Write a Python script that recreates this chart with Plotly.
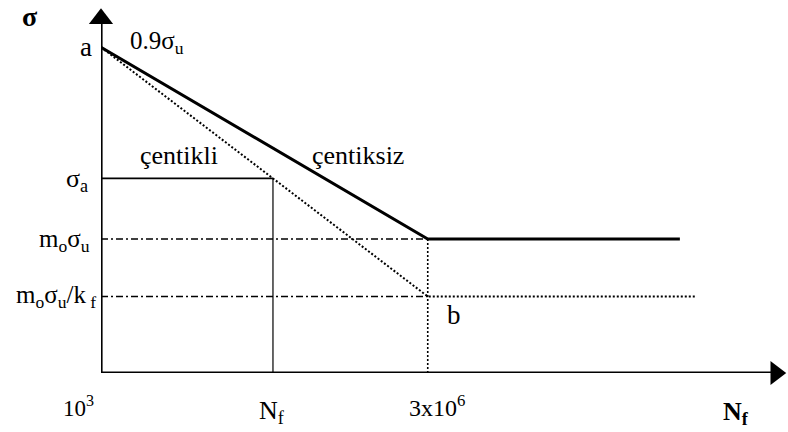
import plotly.graph_objects as go

# Schematic S-N diagram: x is log10(N), y is stress in units of sigma_u
log_n_start = 3.0          # N = 10^3
log_n_knee = 6.477         # N = 3x10^6
log_n_f = 4.83             # working life N_f
log_n_end_solid = 9.16
log_n_end_dotted = 9.34
log_n_axis_end = 10.3

sigma_a_pt = 0.9           # 0.9 sigma_u at point a
m_o = 0.37                 # m_o sigma_u (endurance limit, unnotched)
k_f = 1.75                 # fatigue notch factor
endurance_notched = m_o / k_f

# stress on the notched line at N_f
sigma_work = sigma_a_pt - (log_n_f - log_n_start) / (log_n_knee - log_n_start) * (sigma_a_pt - endurance_notched)

y_top = 1.0083
FONT = "Liberation Serif, Times New Roman, serif"
BLACK = "#000000"
DASHDOT = "7px,3px,2px,3px"
DOTS = "2px,2px"
PLOT_W = 686.0   # pixels across the plotting area
PLOT_H = 365.0

fig = go.Figure()

def seg(xs, ys, width, dash="solid"):
    fig.add_trace(go.Scatter(x=xs, y=ys, mode="lines",
                             line=dict(color=BLACK, width=width, dash=dash),
                             hoverinfo="skip", showlegend=False, cliponaxis=False))

# unnotched curve (çentiksiz): 0.9 sigma_u -> m_o sigma_u, then flat
seg([log_n_start, log_n_knee, log_n_end_solid], [sigma_a_pt, m_o, m_o], 3)
# notched curve (çentikli): dotted to point b, then flat dotted
seg([log_n_start, log_n_knee, log_n_end_dotted], [sigma_a_pt, endurance_notched, endurance_notched], 2, DOTS)
# reference levels from the stress axis
seg([log_n_start, log_n_knee], [m_o, m_o], 1.6, DASHDOT)
seg([log_n_start, log_n_knee], [endurance_notched, endurance_notched], 1.6, DASHDOT)
# vertical at 3x10^6
seg([log_n_knee, log_n_knee], [m_o, 0], 1.6, DOTS)
# working stress sigma_a and its life N_f
seg([log_n_start, log_n_f], [sigma_work, sigma_work], 1.8)
seg([log_n_f, log_n_f], [sigma_work, 0], 1.2)

# axes
seg([log_n_start, log_n_start], [0, y_top - 0.04], 3.2)
seg([log_n_start, log_n_axis_end - 0.14], [0, 0], 3.2)

# arrowheads
fig.add_trace(go.Scatter(x=[log_n_start], y=[y_top - 0.03], mode="markers",
                         marker=dict(symbol="triangle-up", size=21, color=BLACK,
                                     line=dict(width=0)),
                         hoverinfo="skip", showlegend=False, cliponaxis=False))
fig.add_trace(go.Scatter(x=[log_n_axis_end - 0.12], y=[0], mode="markers",
                         marker=dict(symbol="triangle-right", size=21, color=BLACK,
                                     line=dict(width=0)),
                         hoverinfo="skip", showlegend=False, cliponaxis=False))


def label(x, y, text, size=26, xanchor="center", bold=False, xref="x", yref="y"):
    fig.add_annotation(x=x, y=y, xref=xref, yref=yref,
                       text=f"<b>{text}</b>" if bold else text,
                       showarrow=False, xanchor=xanchor, yanchor="middle",
                       font=dict(family=FONT, size=size, color=BLACK))


def px_left(px):
    # horizontal pixel offset to paper fraction (left of the stress axis)
    return (px - 101) / PLOT_W


def py_below(py):
    # vertical pixel to paper fraction (below the N axis)
    return (373 - py) / PLOT_H


label(px_left(30), 0.985, "σ", 28, bold=True, xref="paper")
label(px_left(86), sigma_a_pt, "a", 27, xref="paper")
label(3.29, sigma_a_pt + 0.012, "0.9σ<sub>u</sub>", 25, xanchor="left")
label(3.83, 0.60, "çentikli", 26)
label(5.73, 0.60, "çentiksiz", 26)
label(px_left(90), sigma_work - 0.005, "σ<sub>a</sub>", 26, xanchor="right", xref="paper")
label(px_left(92), m_o - 0.005, "m<sub>o</sub>σ<sub>u</sub>", 25, xanchor="right", xref="paper")
label(px_left(98), endurance_notched, "m<sub>o</sub>σ<sub>u</sub>/k<sub> f</sub>", 25,
      xanchor="right", xref="paper")
label(log_n_knee + 0.28, endurance_notched - 0.05, "b", 27)

# N-axis labels
label(px_left(78), py_below(406), "10<sup>3</sup>", 23, xref="paper", yref="paper")
label(log_n_f - 0.01, py_below(412), "N<sub>f</sub>", 26, yref="paper")
label(log_n_knee + 0.1, py_below(406), "3x10<sup>6</sup>", 24, yref="paper")
label(9.755, py_below(413), "N<sub>f</sub>", 26, bold=True, yref="paper")

fig.update_layout(
    width=788, height=432,
    margin=dict(l=101, r=1, t=8, b=59),
    paper_bgcolor="white", plot_bgcolor="white",
    xaxis=dict(range=[log_n_start, log_n_axis_end], visible=False, fixedrange=True),
    yaxis=dict(range=[0, y_top], visible=False, fixedrange=True),
    showlegend=False,
)

fig.write_html("out.html")
